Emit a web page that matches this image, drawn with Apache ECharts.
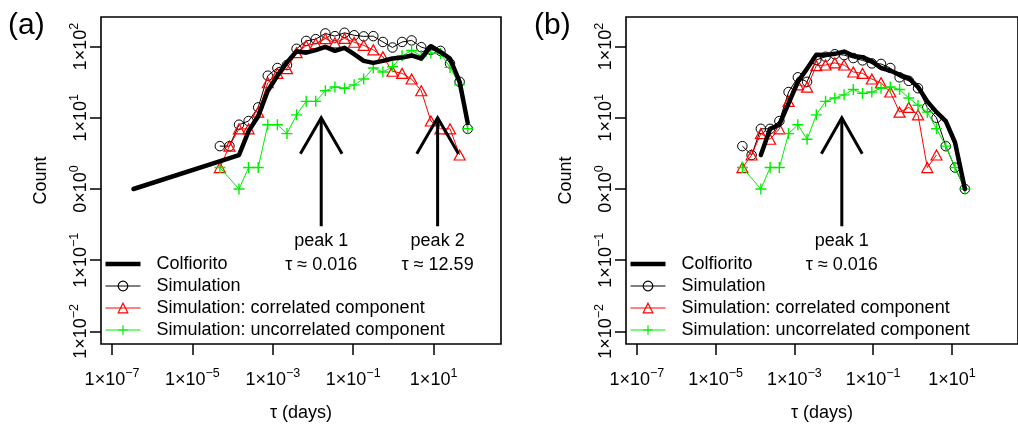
<!DOCTYPE html>
<html><head><meta charset="utf-8">
<script src="https://cdn.jsdelivr.net/npm/echarts@6/dist/echarts.min.js"></script>
<style>html,body{margin:0;padding:0;background:#fff}#c{width:1018px;height:427px}</style>
</head><body><div id="c"></div>
<script>
// ---------- data ----------
const seriesNames = ['Colfiorito', 'Simulation', 'Simulation: correlated component', 'Simulation: uncorrelated component'];

// panel (a)
const tauA = [4.81e-5, 8.34e-5, 1.442e-4, 2.50e-4, 4.33e-4, 7.50e-4, 1.300e-3, 2.25e-3, 3.90e-3, 6.76e-3,
  0.01169, 0.02028, 0.0351, 0.0608, 0.1054, 0.1824, 0.316, 0.548, 0.948, 1.644, 2.84, 4.93, 8.55, 14.79, 25.6, 44.4, 70.5];
const simA  = [4, 4, 8, 9, 14, 39, 50, 55, 93, 120, 127, 153, 140, 156, 144, 139, 140, 116, 97, 116, 122, 98, 90, 87, 58, 32, 7];
const corrA = [2, 4, 7, 7, 12, 31, 42, 49, 82, 103, 110, 129, 113, 130, 115, 104, 90, 72, 45, 42, 35, 24, 9, 7, 7, 3, null];
const uncA  = [2, null, 1, 2, 2, 8, 8, 6, 11, 17, 17, 24, 27, 26, 29, 35, 50, 44, 52, 74, 88, 74, 81, 80, 51, 29, 7];
const colTauA = [3.42e-7, 1.442e-4, 2.50e-4, 4.33e-4, 7.50e-4, 1.300e-3, 2.25e-3, 3.90e-3, 6.76e-3, 0.01169, 0.02028,
  0.0351, 0.0608, 0.1054, 0.1824, 0.316, 0.548, 0.948, 1.644, 2.84, 4.93, 8.55, 14.79, 25.6, 44.4, 70.5];
const colA = [1, 3, 6.5, 10.5, 24, 39, 60, 86, 82, 89, 99, 87, 96, 78, 63, 59, 63, 68, 70, 75, 68, 101, 84, 68, 32, 8.5];

// panel (b)
const tauB = [4.79e-5, 8.22e-5, 1.409e-4, 2.42e-4, 4.16e-4, 7.13e-4, 1.225e-3, 2.10e-3, 3.61e-3, 6.19e-3,
  0.01064, 0.01828, 0.0313, 0.0538, 0.0925, 0.1585, 0.272, 0.468, 0.802, 1.377, 2.366, 4.06, 6.97, 11.97, 21.3];
const simB  = [4, 3, 7, 7, 9, 23, 37, 32, 65, 72, 78, 76, 69, 64, 58, 57, 50, 37, 33, 26, 14, 10, 4, 2, 1];
const corrB = [2, 3, 6, 5, 7, 17, 29, 27, 54, 55, 59, 55, 44, 42, 35, 31, 23, 12, 14, 11, 2, 3, null, null, null];
const uncB  = [2, null, 1, 2, 2, 6, 8, 5, 11, 17, 19, 21, 25, 22, 23, 26, 27, 25, 19, 15, 12, 7, 4, 2, 1];
const colTauB = [1.409e-4, 2.42e-4, 4.16e-4, 7.13e-4, 1.225e-3, 2.10e-3, 3.61e-3, 6.19e-3, 0.01064, 0.01828, 0.0313,
  0.0538, 0.0925, 0.1585, 0.272, 0.468, 0.802, 1.377, 2.366, 4.06, 6.97, 11.97, 21.3];
const colB = [3, 7, 8, 16, 32, 49, 77, 76, 79, 85, 74, 71, 62, 50, 46, 40, 36, 27, 17, 12, 9, 4.5, 1];

// peaks (arrows)
const peaksA = [0.016, 12.59];
const peakLabelsA = ['peak 1\nτ ≈ 0.016', 'peak 2\nτ ≈ 12.59'];
const peaksB = [0.016];
const peakLabelsB = ['peak 1\nτ ≈ 0.016'];
const arrowTip = 10, arrowBase = 0.3, arrowHeadY = 3.13, arrowHeadSpread = 3.3;

// axes
const xRange = [5.32e-8, 475];
const yRange = [6.67e-3, 260];
const xTicks = [1e-7, 1e-5, 1e-3, 1e-1, 10];
const xTickLabels = ['1×10^−7', '1×10^−5', '1×10^−3', '1×10^−1', '1×10^1'];
const yTicks = [0.01, 0.1, 1, 10, 100];
const yTickLabels = ['1×10^−2', '1×10^−1', '0×10^0', '1×10^1', '1×10^2'];
const panelLabels = ['(a)', '(b)'];

// ---------- chart ----------
const FONT = '"Liberation Sans", Arial, Helvetica, sans-serif';
const GREEN = '#00ee00';
const chart = echarts.init(document.getElementById('c'), null, {renderer: 'canvas'});

function pairs(xs, ys) {
  const out = [];
  xs.forEach((x, i) => { if (ys[i] != null) out.push([x, ys[i]]); });
  return out;
}
function richFormatter(ticks, labels) {
  return function (v) {
    let best = 0, bd = Infinity;
    ticks.forEach((t, i) => { const d = Math.abs(Math.log10(v) - Math.log10(t)); if (d < bd) { bd = d; best = i; } });
    const parts = labels[best].split('^');
    return '{b|' + parts[0] + '}{s|' + parts[1] + '}';
  };
}
const rich = {
  b: {fontSize: 18, lineHeight: 22, verticalAlign: 'bottom', fontFamily: FONT, color: '#000'},
  s: {fontSize: 12.5, lineHeight: 13, verticalAlign: 'top', fontFamily: FONT, color: '#000'}
};
const PLUS = 'path://M0,5L10,5M5,0L5,10';

const grids = [
  {left: 101, top: 17, width: 400, height: 334},
  {left: 626, top: 17, width: 400, height: 334}
].map(g => Object.assign(g, {show: true, borderColor: '#000', borderWidth: 1.6, backgroundColor: 'transparent', containLabel: false}));

function xAxis(i) {
  return {
    type: 'log', gridIndex: i, min: xRange[0], max: xRange[1],
    axisLine: {show: false}, splitLine: {show: false},
    axisTick: {show: true, inside: false, length: 11, customValues: xTicks, lineStyle: {color: '#000', width: 1.5}},
    axisLabel: {customValues: xTicks, margin: 23, formatter: richFormatter(xTicks, xTickLabels), rich: rich},
    name: 'τ (days)', nameLocation: 'middle', nameGap: 60,
    nameTextStyle: {fontSize: 18, fontFamily: FONT, color: '#000'}
  };
}
function yAxis(i) {
  return {
    type: 'log', gridIndex: i, min: yRange[0], max: yRange[1],
    axisLine: {show: false}, splitLine: {show: false},
    axisTick: {show: true, inside: false, length: 11, customValues: yTicks, lineStyle: {color: '#000', width: 1.5}},
    axisLabel: {customValues: yTicks, rotate: 90, margin: 11, formatter: richFormatter(yTicks, yTickLabels), rich: rich},
    name: 'Count', nameLocation: 'middle', nameGap: 51, nameRotate: 90,
    nameTextStyle: {fontSize: 18, fontFamily: FONT, color: '#000'}
  };
}

function panelSeries(i, tau, sim, corr, unc, colTau, col, peaks, peakLabels) {
  return [
    {
      name: seriesNames[1], type: 'line', xAxisIndex: i, yAxisIndex: i, data: pairs(tau, sim),
      symbol: 'circle', symbolSize: 9.5, color: '#000',
      itemStyle: {color: 'transparent', borderColor: '#000', borderWidth: 1},
      lineStyle: {color: '#000', width: 1}, z: 2
    },
    {
      name: seriesNames[2], type: 'line', xAxisIndex: i, yAxisIndex: i, data: pairs(tau, corr),
      symbol: 'triangle', symbolSize: [11, 10], color: '#ff0000',
      itemStyle: {color: 'transparent', borderColor: '#ff0000', borderWidth: 1.2},
      lineStyle: {color: '#ff0000', width: 1}, z: 3
    },
    {
      name: seriesNames[3], type: 'line', xAxisIndex: i, yAxisIndex: i, data: pairs(tau, unc),
      symbol: PLUS, symbolSize: 11, color: GREEN,
      itemStyle: {color: 'transparent', borderColor: GREEN, borderWidth: 1.4},
      lineStyle: {color: GREEN, width: 1}, z: 4
    },
    {
      name: seriesNames[0], type: 'line', xAxisIndex: i, yAxisIndex: i, data: pairs(colTau, col),
      symbol: 'none', color: '#000',
      lineStyle: {color: '#000', width: 4.5, cap: 'round', join: 'round'}, z: 5
    },
    {
      type: 'custom', xAxisIndex: i, yAxisIndex: i, z: 6,
      data: peaks.map(p => [p, 1]),
      renderItem: function (params, api) {
        const x = api.value(0);
        const tip = api.coord([x, arrowTip]);
        const base = api.coord([x, arrowBase]);
        const hl = api.coord([x / arrowHeadSpread, arrowHeadY]);
        const hr = api.coord([x * arrowHeadSpread, arrowHeadY]);
        return {
          type: 'group', children: [
            {type: 'line', shape: {x1: tip[0], y1: tip[1], x2: base[0], y2: base[1]}, style: {stroke: '#000', lineWidth: 3}},
            {type: 'polyline', shape: {points: [hl, tip, hr]}, style: {stroke: '#000', lineWidth: 3, fill: null}},
            {type: 'text', x: base[0], y: base[1] + 3, style: {
              text: peakLabels[params.dataIndex], fontSize: 18, lineHeight: 24, fontFamily: FONT,
              fill: '#000', align: 'center', verticalAlign: 'top'}}
          ]
        };
      }
    }
  ];
}

function legend(left) {
  return {
    orient: 'vertical', left: left, top: 253, padding: 0, itemGap: 0,
    itemWidth: 35, itemHeight: 12, selectedMode: false,
    lineStyle: {width: 1},
    itemStyle: {borderWidth: 1.2},
    textStyle: {fontSize: 18, lineHeight: 22, fontFamily: FONT, color: '#000', padding: [0, 0, 0, 11]},
    data: [
      {name: seriesNames[0], icon: 'path://M0,0L35,0L35,4.5L0,4.5Z', itemStyle: {color: '#000', borderWidth: 0}},
      {name: seriesNames[1]},
      {name: seriesNames[2]},
      {name: seriesNames[3]}
    ]
  };
}

chart.setOption({
  animation: false,
  backgroundColor: '#fff',
  textStyle: {fontFamily: FONT},
  title: [
    {text: panelLabels[0], left: 8, top: 11, padding: 0, textStyle: {fontSize: 30, fontWeight: 'normal', fontFamily: FONT, color: '#000'}},
    {text: panelLabels[1], left: 534, top: 11, padding: 0, textStyle: {fontSize: 30, fontWeight: 'normal', fontFamily: FONT, color: '#000'}}
  ],
  legend: [legend(105), legend(630)],
  grid: grids,
  xAxis: [xAxis(0), xAxis(1)],
  yAxis: [yAxis(0), yAxis(1)],
  series: [].concat(
    panelSeries(0, tauA, simA, corrA, uncA, colTauA, colA, peaksA, peakLabelsA),
    panelSeries(1, tauB, simB, corrB, uncB, colTauB, colB, peaksB, peakLabelsB)
  )
});
</script></body></html>
